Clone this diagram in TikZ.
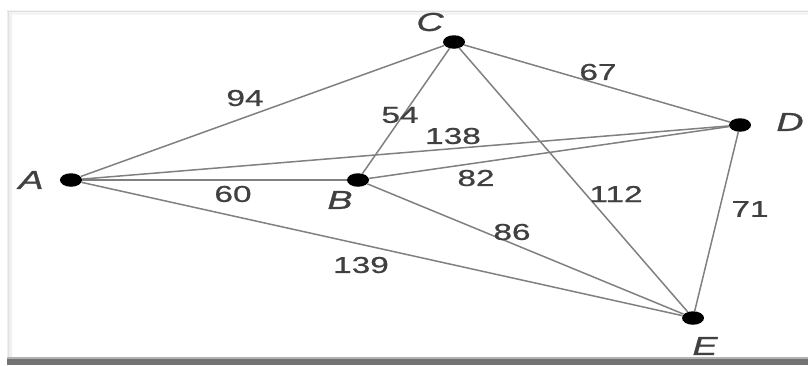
\documentclass[tikz,border=0pt]{standalone}
\usepackage{fontspec}
\setmainfont{Liberation Sans}
\newfontfamily\labelfont[FakeBold=0.7]{Liberation Sans}
\usetikzlibrary{shapes.geometric}
\begin{document}
\begin{tikzpicture}[x=1pt,y=-1pt,
  vertex/.style={ellipse,fill=black,minimum width=22pt,minimum height=13.5pt,inner sep=0pt},
  edge/.style={draw=black!50,line width=1.5pt},
  wlabel/.style={font=\labelfont\fontsize{23}{25}\selectfont,text=black!75,inner sep=1pt,xscale=1.45},
  vlabel/.style={font=\labelfont\fontsize{26}{28}\selectfont\itshape,text=black!75,inner sep=1pt,xscale=1.45}]
\useasboundingbox (0,0) rectangle (808,365);
% frame with soft shadow
\fill[black!4] (7,10) rectangle (808,15);
\fill[black!6] (7,10) rectangle (12,358);
\draw[black!12,line width=1pt] (7,11) -- (808,11);
\draw[black!12,line width=1pt] (8,11) -- (8,358);
\fill[black!55] (7,359) rectangle (808,365);
\fill[black!30] (7,357) rectangle (808,359);
% vertices
\node[vertex] (A) at (71,180) {};
\node[vertex] (B) at (358,180) {};
\node[vertex] (C) at (454,42) {};
\node[vertex] (D) at (740,125) {};
\node[vertex] (E) at (693,318) {};
% edges
\draw[edge] (A) -- (C);
\draw[edge] (A) -- (D);
\draw[edge] (A) -- (B);
\draw[edge] (A) -- (E);
\draw[edge] (B) -- (C);
\draw[edge] (B) -- (D);
\draw[edge] (B) -- (E);
\draw[edge] (C) -- (D);
\draw[edge] (C) -- (E);
\draw[edge] (D) -- (E);
% vertex names
\node[vlabel] (lA) at (31,180) {A};
\node[vlabel] (lB) at (340,200) {B};
\node[vlabel] (lC) at (430,22) {C};
\node[vlabel] (lD) at (790,122) {D};
\node[vlabel] (lE) at (705,346) {E};
% weights
\node[wlabel] (w94) at (245,98) {94};
\node[wlabel] (w54) at (400,115) {54};
\node[wlabel] (w138) at (453,136) {138};
\node[wlabel] (w67) at (598,72) {67};
\node[wlabel] (w82) at (476,178) {82};
\node[wlabel] (w60) at (233,194) {60};
\node[wlabel] (w112) at (616,194) {112};
\node[wlabel] (w71) at (750,209) {71};
\node[wlabel] (w86) at (512,232) {86};
\node[wlabel] (w139) at (361,265) {139};
\end{tikzpicture}
\end{document}
